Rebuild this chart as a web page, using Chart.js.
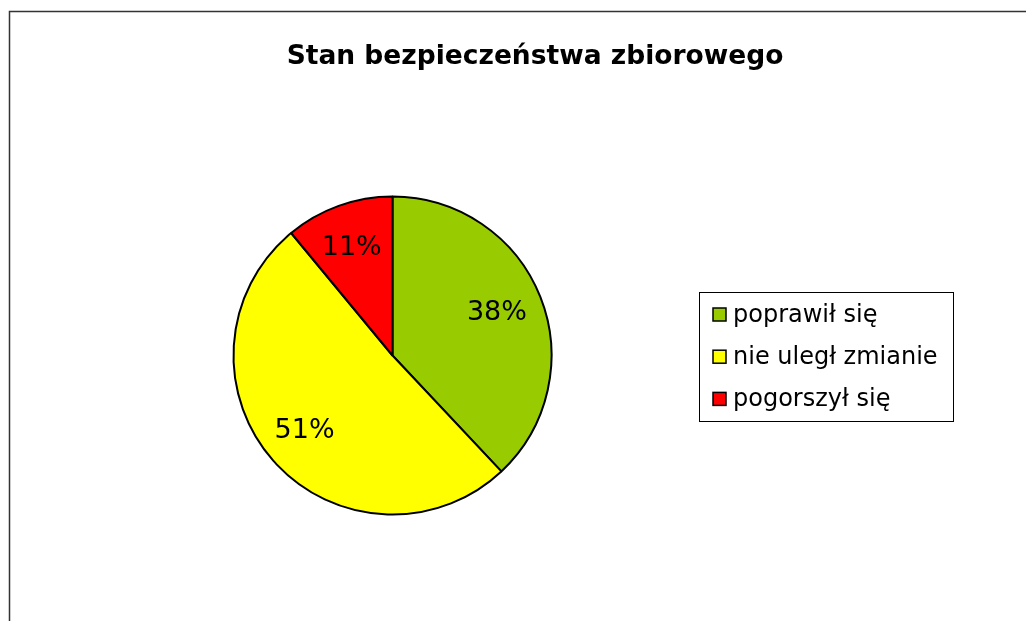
<!DOCTYPE html>
<html>
<head>
<meta charset="utf-8">
<script src="https://cdn.jsdelivr.net/npm/chart.js@4/dist/chart.umd.min.js"></script>
<style>
  html, body { margin: 0; padding: 0; background: #fff; }
  #wrap { width: 1026px; height: 621px; position: relative; }
</style>
</head>
<body>
<div id="wrap"><canvas id="chart" width="1026" height="621"></canvas></div>
<script>
const TITLE = 'Stan bezpieczeństwa zbiorowego';
const labels = ['poprawił się', 'nie uległ zmianie', 'pogorszył się'];
const values = [38, 51, 11];
const colors = ['#99CC00', '#FFFF00', '#FF0000'];

const FONT = '"DejaVu Sans", Verdana, sans-serif';

// frame, title, slice labels and legend box
const decorations = {
  id: 'decorations',
  beforeDraw(chart) {
    const ctx = chart.ctx;
    ctx.save();
    ctx.fillStyle = '#fff';
    ctx.fillRect(0, 0, chart.width, chart.height);
    ctx.strokeStyle = '#333';
    ctx.lineWidth = 1.5;
    ctx.strokeRect(9.5, 11.5, 1200, 1000);
    ctx.restore();
  },
  afterDraw(chart) {
    const ctx = chart.ctx;
    ctx.save();

    ctx.fillStyle = '#000';
    ctx.font = 'bold 26.5px ' + FONT;
    ctx.textAlign = 'center';
    ctx.textBaseline = 'middle';
    ctx.fillText(TITLE, 535, 57);

    // percentage labels inside slices
    const meta = chart.getDatasetMeta(0);
    const total = values.reduce((a, b) => a + b, 0);
    ctx.font = '27px ' + FONT;
    meta.data.forEach((arc, i) => {
      const mid = (arc.startAngle + arc.endAngle) / 2;
      const r = arc.outerRadius * 0.72;
      const x = arc.x + Math.cos(mid) * r;
      const y = arc.y + Math.sin(mid) * r;
      ctx.fillText(Math.round(values[i] / total * 100) + '%', x - 2, y);
    });

    // legend
    ctx.strokeStyle = '#000';
    ctx.lineWidth = 1;
    ctx.strokeRect(699.5, 292.5, 254, 129);
    ctx.font = '24px ' + FONT;
    ctx.textAlign = 'left';
    chart.data.labels.forEach((label, i) => {
      const cy = 314.5 + i * 42.2;
      ctx.fillStyle = colors[i];
      ctx.fillRect(713, cy - 6.5, 13, 13);
      ctx.lineWidth = 1.5;
      ctx.strokeRect(713, cy - 6.5, 13, 13);
      ctx.fillStyle = '#000';
      ctx.fillText(label, 733, cy + 1);
    });
    ctx.restore();
  }
};

new Chart(document.getElementById('chart'), {
  type: 'pie',
  data: {
    labels: labels,
    datasets: [{
      data: values,
      backgroundColor: colors,
      borderColor: '#000',
      borderWidth: 2,
      borderAlign: 'center',
    }],
  },
  options: {
    responsive: false,
    animation: false,
    layout: {
      padding: { left: 232.5, right: 473.5, top: 195.5, bottom: 105.5 },
    },
    plugins: {
      legend: { display: false },
      title: { display: false },
      tooltip: { enabled: false },
    },
  },
  plugins: [decorations],
});
</script>
</body>
</html>
